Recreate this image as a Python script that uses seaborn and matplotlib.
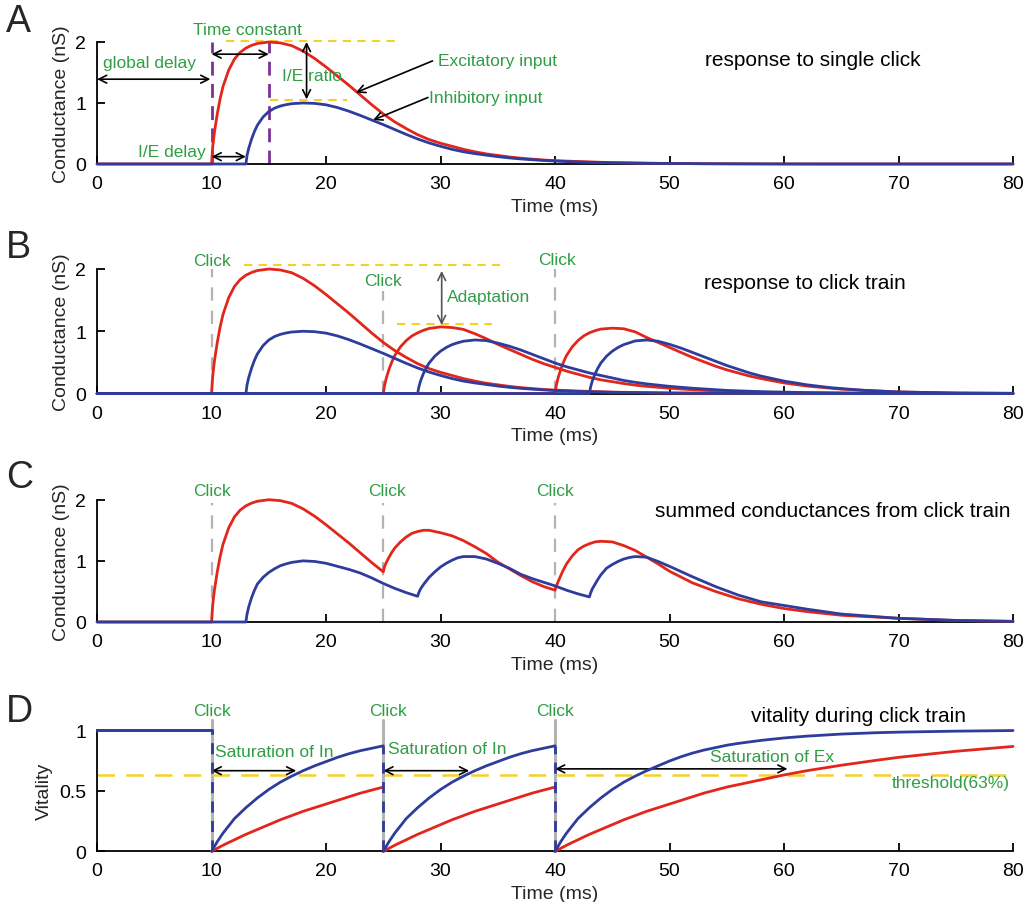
import matplotlib
matplotlib.use("Agg")
import matplotlib.pyplot as plt
import seaborn as sns

sns.set_theme(style="ticks")
plt.rcParams["font.family"] = ["Liberation Sans", "DejaVu Sans"]

RED = "#e3261c"
BLUE = "#2e3c9c"
GREEN = "#2f9e44"
YELLOW = "#f5d128"
PURPLE = "#7b3294"
GRAY = "#b3b3b3"

# ---- values (time in ms) ----
clicks = [10, 25, 40]

# single click response (panels A and B, first click)
t_e1 = [0, 10, 10.1, 10.25, 10.5, 10.75, 11, 11.5, 12, 12.5, 13, 13.5, 14, 15, 16, 17, 18, 19, 20,
        21, 22, 23, 24, 25, 26, 27, 28, 29, 30, 31, 32, 33, 34, 35, 36, 37, 38, 39, 40, 42, 45, 50,
        55, 60, 80]
g_e1 = [0, 0, 0.28, 0.52, 0.82, 1.07, 1.27, 1.54, 1.72, 1.83, 1.9, 1.945, 1.975, 2.0, 1.985, 1.94,
        1.85, 1.73, 1.59, 1.44, 1.29, 1.13, 0.97, 0.82, 0.69, 0.58, 0.48, 0.4, 0.34, 0.29, 0.24, 0.2,
        0.165, 0.14, 0.115, 0.095, 0.08, 0.065, 0.055, 0.04, 0.022, 0.008, 0.003, 0, 0]
t_i1 = [0, 13, 13.1, 13.25, 13.5, 13.75, 14, 14.5, 15, 15.5, 16, 16.5, 17, 18, 19, 20, 21, 22, 23,
        24, 25, 26, 27, 28, 29, 30, 31, 32, 33, 34, 35, 36, 37, 38, 39, 40, 41, 42, 43, 45, 48, 53,
        58, 63, 80]
g_i1 = [0, 0, 0.14, 0.26, 0.41, 0.535, 0.635, 0.77, 0.86, 0.915, 0.95, 0.972, 0.988, 1.0, 0.993,
        0.97, 0.925, 0.865, 0.795, 0.72, 0.645, 0.565, 0.485, 0.41, 0.345, 0.29, 0.24, 0.2, 0.17,
        0.145, 0.12, 0.1, 0.083, 0.07, 0.058, 0.048, 0.04, 0.033, 0.0275, 0.02, 0.011, 0.004, 0.0015,
        0, 0]

# panel B, second and third click
t_e2 = [0, 25, 25.1, 25.25, 25.5, 25.75, 26, 26.5, 27, 27.5, 28, 28.5, 29, 30, 31, 32, 33, 34, 35,
        36, 37, 38, 39, 40, 41, 42, 43, 44, 45, 46, 47, 48, 50, 52, 55, 60, 65, 70, 80]
g_e2 = [0, 0, 0.12, 0.24, 0.39, 0.51, 0.61, 0.75, 0.85, 0.925, 0.975, 1.015, 1.045, 1.07, 1.06,
        1.03, 0.96, 0.88, 0.79, 0.71, 0.63, 0.55, 0.48, 0.42, 0.36, 0.31, 0.26, 0.22, 0.19, 0.16,
        0.135, 0.115, 0.085, 0.06, 0.035, 0.013, 0.005, 0, 0]
t_i2 = [0, 28, 28.1, 28.25, 28.5, 28.75, 29, 29.5, 30, 30.5, 31, 31.5, 32, 33, 34, 35, 36, 37, 38,
        39, 40, 41, 42, 43, 44, 45, 46, 47, 48, 49, 50, 52, 55, 58, 62, 68, 80]
g_i2 = [0, 0, 0.1, 0.2, 0.32, 0.41, 0.49, 0.6, 0.68, 0.74, 0.785, 0.815, 0.84, 0.86, 0.85, 0.81,
        0.76, 0.7, 0.63, 0.56, 0.49, 0.43, 0.38, 0.33, 0.29, 0.25, 0.21, 0.18, 0.155, 0.135, 0.115,
        0.085, 0.05, 0.03, 0.015, 0.005, 0]
t_e3 = [0, 40, 40.1, 40.25, 40.5, 40.75, 41, 41.5, 42, 42.5, 43, 43.5, 44, 45, 46, 47, 48, 49, 50,
        51, 52, 53, 54, 55, 56, 57, 58, 60, 62, 65, 70, 75, 80]
g_e3 = [0, 0, 0.12, 0.24, 0.39, 0.51, 0.61, 0.75, 0.85, 0.925, 0.975, 1.01, 1.035, 1.05, 1.04, 0.99,
        0.9, 0.82, 0.74, 0.66, 0.58, 0.51, 0.44, 0.38, 0.33, 0.28, 0.24, 0.17, 0.12, 0.07, 0.025,
        0.008, 0.003]
t_i3 = [0, 43, 43.1, 43.25, 43.5, 43.75, 44, 44.5, 45, 45.5, 46, 46.5, 47, 48, 49, 50, 51, 52, 53,
        54, 55, 56, 57, 58, 59, 60, 62, 64, 67, 70, 75, 80]
g_i3 = [0, 0, 0.1, 0.2, 0.32, 0.41, 0.49, 0.6, 0.68, 0.74, 0.785, 0.815, 0.845, 0.86, 0.84, 0.79,
        0.73, 0.66, 0.59, 0.52, 0.45, 0.39, 0.33, 0.28, 0.24, 0.2, 0.14, 0.095, 0.05, 0.025, 0.008,
        0.003]

# panel C, summed conductances
t_ce = [0, 10, 10.1, 10.25, 10.5, 10.75, 11, 11.5, 12, 12.5, 13, 13.5, 14, 15, 16, 17, 18, 19, 20,
        21, 22, 23, 24, 25, 25.1, 25.25, 25.5, 25.75, 26, 26.5, 27, 27.5, 28, 28.5, 29, 30, 31, 32,
        33, 34, 35, 36, 37, 38, 39, 40, 40.1, 40.25, 40.5, 40.75, 41, 41.5, 42, 42.5, 43, 43.5, 44,
        45, 46, 47, 48, 49, 50, 52, 54, 56, 58, 60, 62, 65, 70, 75, 80]
g_ce = [0, 0, 0.28, 0.52, 0.82, 1.07, 1.27, 1.54, 1.72, 1.83, 1.9, 1.945, 1.975, 2.0, 1.985, 1.94,
        1.85, 1.73, 1.59, 1.44, 1.29, 1.13, 0.97, 0.82, 0.9, 0.97, 1.06, 1.14, 1.21, 1.31, 1.39,
        1.45, 1.48, 1.5, 1.5, 1.46, 1.41, 1.33, 1.23, 1.12, 0.98, 0.87, 0.76, 0.66, 0.58, 0.52,
        0.58, 0.65, 0.76, 0.86, 0.95, 1.08, 1.18, 1.24, 1.28, 1.31, 1.32, 1.31, 1.25, 1.17, 1.06,
        0.95, 0.83, 0.64, 0.5, 0.38, 0.29, 0.22, 0.17, 0.11, 0.06, 0.025, 0.01]
t_ci = [0, 13, 13.1, 13.25, 13.5, 13.75, 14, 14.5, 15, 15.5, 16, 16.5, 17, 18, 19, 20, 21, 22, 23,
        24, 25, 26, 27, 28, 28.1, 28.25, 28.5, 28.75, 29, 29.5, 30, 30.5, 31, 31.5, 32, 33, 34, 35,
        36, 37, 38, 39, 40, 41, 42, 43, 43.1, 43.25, 43.5, 43.75, 44, 44.5, 45, 45.5, 46, 46.5, 47,
        48, 49, 50, 52, 54, 56, 58, 60, 62, 65, 70, 75, 80]
g_ci = [0, 0, 0.13, 0.25, 0.4, 0.52, 0.62, 0.73, 0.81, 0.87, 0.92, 0.95, 0.975, 1.0, 0.99, 0.96,
        0.91, 0.86, 0.8, 0.72, 0.63, 0.55, 0.48, 0.42, 0.48, 0.54, 0.61, 0.67, 0.73, 0.82, 0.9, 0.96,
        1.01, 1.05, 1.07, 1.07, 1.03, 0.96, 0.88, 0.78, 0.71, 0.65, 0.59, 0.52, 0.46, 0.41, 0.47,
        0.54, 0.62, 0.7, 0.77, 0.88, 0.94, 0.99, 1.03, 1.055, 1.07, 1.06, 0.99, 0.91, 0.74, 0.58,
        0.44, 0.33, 0.27, 0.21, 0.13, 0.06, 0.025, 0.01]

# panel D, vitality
t_vit_0 = [0, 10]
vit_0 = [1, 1]
t_vit_1 = [10, 10.5, 11, 11.5, 12, 12.5, 13, 13.5, 14, 15, 16, 17, 18, 19, 20, 21, 22, 23, 24, 25]
t_vit_2 = [25, 25.5, 26, 26.5, 27, 27.5, 28, 28.5, 29, 30, 31, 32, 33, 34, 35, 36, 37, 38, 39, 40]
vit_in_a = [0, 0.08, 0.15, 0.21, 0.27, 0.315, 0.36, 0.4, 0.44, 0.51, 0.57, 0.62, 0.665, 0.705,
            0.74, 0.775, 0.805, 0.83, 0.85, 0.87]
vit_ex_a = [0, 0.025, 0.05, 0.073, 0.095, 0.118, 0.14, 0.16, 0.18, 0.22, 0.26, 0.295, 0.33, 0.36,
            0.39, 0.42, 0.45, 0.48, 0.505, 0.53]
t_vit_3 = [40, 40.5, 41, 41.5, 42, 42.5, 43, 43.5, 44, 45, 46, 47, 48, 49, 50, 51, 52, 53, 54, 55,
           56, 58, 60, 62, 65, 68, 70, 75, 80]
vit_in_3 = [0, 0.08, 0.15, 0.21, 0.27, 0.315, 0.36, 0.4, 0.44, 0.51, 0.57, 0.62, 0.665, 0.705,
            0.745, 0.78, 0.81, 0.835, 0.855, 0.875, 0.89, 0.915, 0.935, 0.95, 0.967, 0.978, 0.983,
            0.991, 0.996]
vit_ex_3 = [0, 0.025, 0.05, 0.073, 0.095, 0.118, 0.14, 0.16, 0.18, 0.22, 0.26, 0.295, 0.33, 0.36,
            0.39, 0.42, 0.45, 0.48, 0.505, 0.53, 0.55, 0.59, 0.63, 0.665, 0.71, 0.75, 0.775, 0.825,
            0.865]
threshold = 0.63


def curve(ax, t, g, color, z=3):
    sns.lineplot(x=t, y=g, ax=ax, color=color, linewidth=2.0, estimator=None, sort=False,
                 clip_on=False, zorder=z)


def note(ax, x, y, s, ha="center", color=GREEN, size=12.5):
    ax.text(x, y, s, ha=ha, va="center", color=color, fontsize=size, clip_on=False)


def arrow(ax, x0, y0, x1, y1, style="<->", color="black"):
    ax.annotate("", xy=(x1, y1), xytext=(x0, y0), annotation_clip=False,
                arrowprops=dict(arrowstyle=style, color=color, lw=1.2, mutation_scale=14,
                                shrinkA=0, shrinkB=0))


def hdash(ax, x0, x1, y, color=YELLOW, dashes=(4, 3), lw=1.5):
    ax.plot([x0, x1], [y, y], color=color, lw=lw, dashes=dashes, clip_on=False, zorder=2)


def style_axis(ax, top, ticks, labels, ylabel):
    ax.set_xlim(0, 80)
    ax.set_ylim(0, top)
    ax.set_xticks(range(0, 81, 10))
    ax.set_yticks(ticks)
    ax.set_yticklabels(labels)
    sns.despine(ax=ax)
    ax.spines["left"].set_bounds(0, top)
    for sp in ["left", "bottom"]:
        ax.spines[sp].set_linewidth(1.3)
        ax.spines[sp].set_color("black")
    ax.tick_params(direction="in", length=6, width=1.3, labelsize=14, pad=8, colors="black")
    ax.set_xlabel("Time (ms)", fontsize=14, labelpad=4)
    ax.set_ylabel(ylabel, fontsize=14, labelpad=4)
    ax.patch.set_visible(False)


fig = plt.figure(figsize=(10.27, 9.03), dpi=100)
left, width = 0.0945, 0.8919
axA = fig.add_axes([left, 0.8173, width, 0.1351])
axB = fig.add_axes([left, 0.5631, width, 0.1379])
axC = fig.add_axes([left, 0.3101, width, 0.1354])
axD = fig.add_axes([left, 0.0561, width, 0.1343])

# ---------------- A ----------------
ax = axA
for x in [10, 15]:
    ax.plot([x, x], [0, 2.0], color=PURPLE, lw=2, dashes=(5, 3), zorder=2, clip_on=False)
curve(ax, t_e1, g_e1, RED)
curve(ax, t_i1, g_i1, BLUE, z=4)
hdash(ax, 11.3, 26.0, 2.02)
hdash(ax, 15.1, 21.8, 1.05)
note(ax, 4.6, 1.67, "global delay")
arrow(ax, 0, 1.39, 9.9, 1.39)
note(ax, 13.1, 2.21, "Time constant")
arrow(ax, 10, 1.8, 15, 1.8)
note(ax, 18.8, 1.45, "I/E ratio")
arrow(ax, 18.3, 2.0, 18.3, 1.06)
note(ax, 9.5, 0.2, "I/E delay", ha="right")
arrow(ax, 10, 0.12, 13, 0.12)
note(ax, 29.8, 1.69, "Excitatory input", ha="left")
arrow(ax, 29.3, 1.69, 22.6, 1.17, style="->")
note(ax, 29.0, 1.09, "Inhibitory input", ha="left")
arrow(ax, 28.9, 1.09, 24.1, 0.72, style="->")
note(ax, 62.5, 1.72, "response to single click", color="black", size=15)
style_axis(ax, 2, [0, 1, 2], ["0", "1", "2"], "Conductance (nS)")

# ---------------- B ----------------
ax = axB
for x, top in zip(clicks, [2.0, 1.65, 2.0]):
    ax.plot([x, x], [0, top], color=GRAY, lw=1.6, dashes=(6, 4.5), zorder=1, clip_on=False)
note(ax, 10, 2.13, "Click")
note(ax, 25, 1.81, "Click")
note(ax, 40.2, 2.15, "Click")
curve(ax, t_e1, g_e1, RED)
curve(ax, t_e2, g_e2, RED)
curve(ax, t_e3, g_e3, RED)
curve(ax, t_i1, g_i1, BLUE, z=4)
curve(ax, t_i2, g_i2, BLUE, z=4)
curve(ax, t_i3, g_i3, BLUE, z=4)
hdash(ax, 12.8, 35.2, 2.07)
hdash(ax, 26.2, 34.5, 1.11)
arrow(ax, 30.1, 1.97, 30.1, 1.10, color="#555555")
note(ax, 30.6, 1.56, "Adaptation", ha="left")
note(ax, 61.8, 1.79, "response to click train", color="black", size=15)
style_axis(ax, 2, [0, 1, 2], ["0", "1", "2"], "Conductance (nS)")

# ---------------- C ----------------
ax = axC
for x in clicks:
    ax.plot([x, x], [0, 1.95], color=GRAY, lw=1.6, dashes=(6, 4.5), zorder=1, clip_on=False)
note(ax, 10, 2.15, "Click")
note(ax, 25.3, 2.15, "Click")
note(ax, 40, 2.15, "Click")
curve(ax, t_ce, g_ce, RED)
curve(ax, t_ci, g_ci, BLUE, z=4)
note(ax, 79.8, 1.83, "summed conductances from click train", ha="right", color="black", size=15)
style_axis(ax, 2, [0, 1, 2], ["0", "1", "2"], "Conductance (nS)")

# ---------------- D ----------------
ax = axD
for x in clicks:
    ax.plot([x, x], [0, 1.08], color=GRAY, lw=2.2, zorder=1, clip_on=False)
note(ax, 10, 1.16, "Click")
note(ax, 25.4, 1.16, "Click")
note(ax, 40, 1.16, "Click")
ax.axhline(threshold, color=YELLOW, lw=1.8, dashes=(7, 4.5), zorder=2)
curve(ax, t_vit_0, vit_0, RED)
curve(ax, t_vit_1, vit_ex_a, RED)
curve(ax, t_vit_2, vit_ex_a, RED)
curve(ax, t_vit_3, vit_ex_3, RED)
curve(ax, t_vit_0, vit_0, BLUE, z=4)
curve(ax, t_vit_1, vit_in_a, BLUE, z=4)
curve(ax, t_vit_2, vit_in_a, BLUE, z=4)
curve(ax, t_vit_3, vit_in_3, BLUE, z=4)
for x, top in zip(clicks, [vit_0[-1], vit_in_a[-1], vit_in_a[-1]]):
    ax.plot([x, x], [0, top], color=BLUE, lw=2, dashes=(4, 3), zorder=5, clip_on=False)
arrow(ax, 10, 0.665, 17.4, 0.665)
arrow(ax, 25, 0.665, 32.5, 0.665)
arrow(ax, 40, 0.68, 60.3, 0.68)
note(ax, 10.3, 0.82, "Saturation of In", ha="left")
note(ax, 25.4, 0.845, "Saturation of In", ha="left")
note(ax, 53.5, 0.78, "Saturation of Ex", ha="left")
note(ax, 79.7, 0.57, "threshold(63%)", ha="right")
note(ax, 66.5, 1.12, "vitality during click train", color="black", size=15)
style_axis(ax, 1, [0, 0.5, 1], ["0", "0.5", "1"], "Vitality")

for lab, y in zip("ABCD", [0.9756, 0.7254, 0.4707, 0.2115]):
    fig.text(0.006, y, lab, fontsize=27, va="center", ha="left")

fig.savefig("out.png", dpi=100)
